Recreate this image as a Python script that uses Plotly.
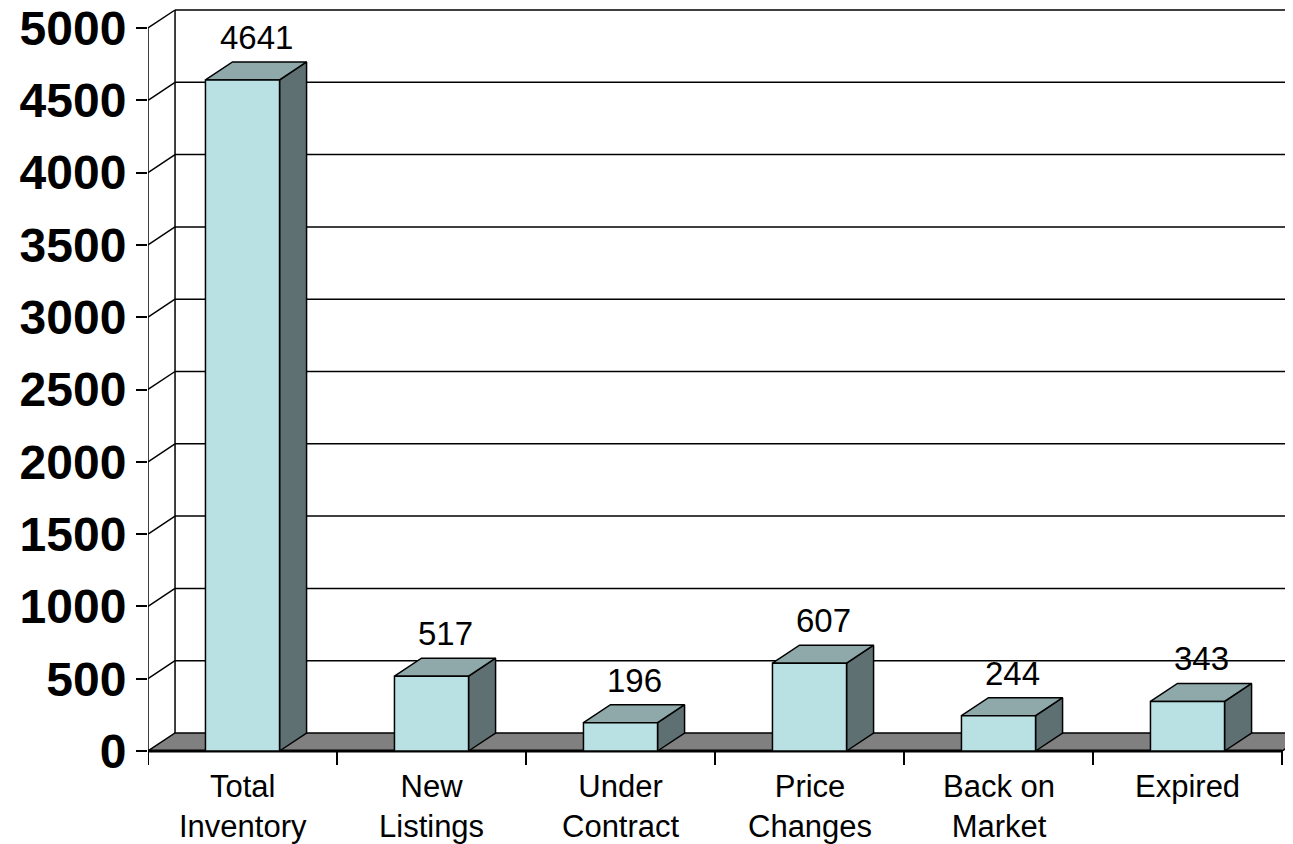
import plotly.graph_objects as go

# data
categories = ["Total<br>Inventory", "New<br>Listings", "Under<br>Contract",
              "Price<br>Changes", "Back on<br>Market", "Expired"]
values = [4641, 517, 196, 607, 244, 343]
y_ticks = [0, 500, 1000, 1500, 2000, 2500, 3000, 3500, 4000, 4500, 5000]

# 3d look: depth offset in axis units, bar half width in category units
DX = 0.143
DY = 124.5
HW = 0.196
FONT = "Arial, Liberation Sans, sans-serif"

FRONT = "#b9e0e3"
TOP = "#8fa9aa"
SIDE = "#5e7072"
FLOOR = "#808080"

fig = go.Figure()


def poly(xs, ys, fill, lw=1.5):
    fig.add_trace(go.Scatter(x=xs + [xs[0]], y=ys + [ys[0]], mode="lines", fill="toself",
                             fillcolor=fill, line=dict(color="black", width=lw),
                             hoverinfo="skip", showlegend=False))


def line(xs, ys, lw=1.5):
    fig.add_trace(go.Scatter(x=xs, y=ys, mode="lines", line=dict(color="black", width=lw),
                             hoverinfo="skip", showlegend=False))


n = len(categories)
x0, x1 = -0.5, n - 0.5
xr = [x0, x0 + 1145 / 189]

# back wall gridlines + side wall diagonals
for v in y_ticks[1:]:
    line([x0 + DX, xr[1]], [v + DY, v + DY])
    line([x0, x0 + DX], [v, v + DY])
line([x0 + DX, x0 + DX], [DY, y_ticks[-1] + DY])
line([x0, x0], [-97, y_ticks[-1]])

# floor
poly([x0, x1, x1 + DX, x0 + DX], [0, 0, DY, DY], FLOOR)
line([x0, x1], [0, 0], lw=3)
for i in range(n + 1):
    line([x0 + i, x0 + i], [0, -97], lw=2)

# bars
for i, v in enumerate(values):
    l, r = i - HW, i + HW
    poly([r, r + DX, r + DX, r], [0, DY, v + DY, v], SIDE)
    poly([l, r, r + DX, l + DX], [v, v, v + DY, v + DY], TOP)
    poly([l, r, r, l], [0, 0, v, v], FRONT)
    fig.add_annotation(x=i + DX / 2, y=v + DY, text=str(v), showarrow=False,
                       yanchor="bottom", yshift=4, font=dict(family=FONT, size=33, color="black"))
    fig.add_annotation(x=i, y=0, text=categories[i], showarrow=False, yanchor="top",
                       yshift=-16, font=dict(family=FONT, size=31, color="black"))

# page has an 8px body margin, so the figure is sized 8px smaller
px_per = 723 / 5000
fig.update_xaxes(range=xr, visible=False, automargin=False)
fig.update_yaxes(range=[(743 - 836) / px_per, 743 / px_per], tickvals=y_ticks,
                 showgrid=False, zeroline=False, ticks="outside", ticklen=11, tickwidth=2,
                 tickcolor="black", ticklabeloverflow="allow", automargin=False,
                 tickfont=dict(family=FONT, size=48, color="black", weight="bold"))
fig.update_layout(width=1285, height=836, margin=dict(l=140, r=0, t=0, b=0),
                  plot_bgcolor="white", paper_bgcolor="white")

fig.write_html("out.html")
